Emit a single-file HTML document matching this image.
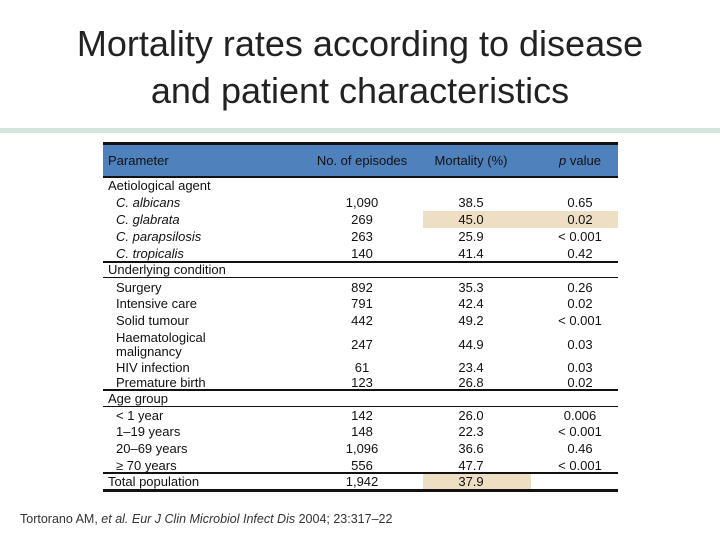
<!DOCTYPE html>
<html><head><meta charset="utf-8"><style>
body{margin:0;width:720px;height:540px;background:#fff;position:relative;overflow:hidden;font-family:"Liberation Sans",sans-serif;color:#111}
.t{position:absolute;left:0;width:720px;text-align:center;font-size:36px;color:#222;font-family:"Liberation Sans",sans-serif}
.a{position:absolute;font-size:13px;white-space:nowrap;line-height:15px}
.c{transform:translateX(-50%)}
.l{position:absolute;left:103px;width:515px;background:#111}
.hl{position:absolute;background:#eedfc4}
</style></head><body>
<div class="t" style="top:23px">Mortality rates according to disease</div>
<div class="t" style="top:70px">and patient characteristics</div>
<div style="position:absolute;left:0;top:128px;width:720px;height:5px;background:#d3e6de"></div>
<div>
<div class="l" style="top:142px;height:3px"></div>
<div style="position:absolute;left:103px;top:145px;width:515px;height:31px;background:#4f81bd"></div>
<div class="l" style="top:176px;height:2px"></div>
<div class="hl" style="left:423px;top:211px;width:195px;height:17px"></div>
<div class="hl" style="left:423px;top:473px;width:108px;height:17px"></div>
<div class="l" style="top:261px;height:2px"></div>
<div class="l" style="top:277px;height:1px"></div>
<div class="l" style="top:389px;height:2px"></div>
<div class="l" style="top:406px;height:1px"></div>
<div class="l" style="top:472px;height:2px"></div>
<div class="l" style="top:489px;height:3px"></div>
<div id="cells"></div>
</div>
<div class="a" style="left:20px;top:512px;font-size:12.5px;color:#333">Tortorano AM, <i>et al. Eur J Clin Microbiol Infect Dis</i> 2004; 23:317–22</div>
<script>
const rows=[
["Parameter","No. of episodes","Mortality (%)","<i>p</i> value",153,0,1],
["Aetiological agent","","","",178,0],
["<i>C. albicans</i>","1,090","38.5","0.65",195,1],
["<i>C. glabrata</i>","269","45.0","0.02",212,1],
["<i>C. parapsilosis</i>","263","25.9","&lt; 0.001",229,1],
["<i>C. tropicalis</i>","140","41.4","0.42",246,1],
["Underlying condition","","","",262,0],
["Surgery","892","35.3","0.26",280,1],
["Intensive care","791","42.4","0.02",296,1],
["Solid tumour","442","49.2","&lt; 0.001",313,1],
["Haematological<br>malignancy","247","44.9","0.03",337,1],
["HIV infection","61","23.4","0.03",360,1],
["Premature birth","123","26.8","0.02",375,1],
["Age group","","","",391,0],
["&lt; 1 year","142","26.0","0.006",408,1],
["1–19 years","148","22.3","&lt; 0.001",424,1],
["20–69 years","1,096","36.6","0.46",441,1],
["≥ 70 years","556","47.7","&lt; 0.001",458,1],
["Total population","1,942","37.9","",474,0]
];
const box=document.getElementById('cells');
rows.forEach((r,i)=>{
  const y=r[4];
  const lab=document.createElement('div');lab.className='a';
  lab.style.left=(r[5]?116:108)+'px';
  lab.style.top=(i==10?y-6:y)+'px';
  lab.style.lineHeight=(i==10?'14px':'15px');
  lab.innerHTML=r[0];
  
  
  box.appendChild(lab);
  [[r[1],362],[r[2],471],[r[3],580]].forEach(([v,x])=>{
    if(!v)return;
    const d=document.createElement('div');d.className='a c';
    d.style.left=x+'px';d.style.top=y+'px';d.innerHTML=v;
    
    
    box.appendChild(d);
  });
});
</script>
</body></html>
